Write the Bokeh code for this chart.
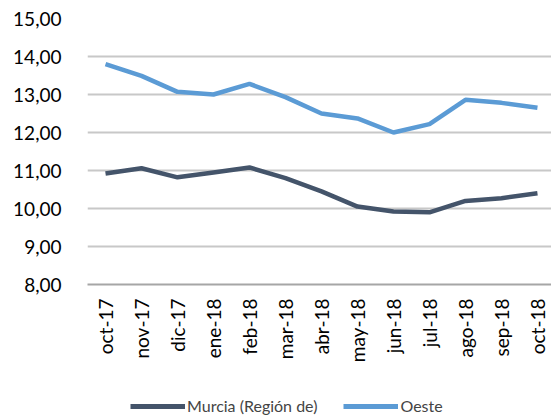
from bokeh.plotting import figure
from bokeh.layouts import column
from bokeh.models import Range1d, FixedTicker, Legend, LegendItem
from bokeh.embed import file_html
from bokeh.resources import INLINE
import math

months = ["oct-17", "nov-17", "dic-17", "ene-18", "feb-18", "mar-18", "abr-18",
          "may-18", "jun-18", "jul-18", "ago-18", "sep-18", "oct-18"]
murcia = [10.92, 11.06, 10.82, 10.95, 11.08, 10.80, 10.45, 10.05, 9.92, 9.90, 10.20, 10.27, 10.40]
oeste = [13.80, 13.49, 13.07, 13.00, 13.28, 12.93, 12.50, 12.37, 12.00, 12.22, 12.86, 12.78, 12.65]
y_ticks = [8, 9, 10, 11, 12, 13, 14, 15]
y_labels = ["8,00", "9,00", "10,00", "11,00", "12,00", "13,00", "14,00", "15,00"]
series_names = ["Murcia (Región de)", "Oeste"]
colors = ["#44546A", "#5B9BD5"]

FONT = "Lato"
xs = list(range(len(months)))

p = figure(width=551, height=392, output_backend="svg", toolbar_location=None,
           x_range=Range1d(-0.5, 12.39), y_range=Range1d(8, 15),
           min_border_left=87, min_border_right=0, min_border_top=18, min_border_bottom=108)
p.outline_line_color = None
p.background_fill_color = "white"
p.border_fill_color = "white"

p.line(xs, murcia, line_color=colors[0], line_width=4.5)
p.line(xs, oeste, line_color=colors[1], line_width=4.5)

# y axis
p.yaxis.ticker = FixedTicker(ticks=y_ticks)
p.yaxis.major_label_overrides = dict(zip(y_ticks, y_labels))
p.yaxis.axis_line_color = None
p.yaxis.major_tick_line_color = None
p.yaxis.minor_tick_line_color = None
p.yaxis.major_label_text_font = FONT
p.yaxis.major_label_text_font_size = "19px"
p.yaxis.major_label_text_color = "#000000"
p.yaxis.major_label_standoff = 20

# x axis
p.xaxis.ticker = FixedTicker(ticks=xs)
p.xaxis.major_label_overrides = dict(zip(xs, months))
p.xaxis.major_label_orientation = math.pi / 2
p.xaxis.axis_line_color = "#A6A6A6"
p.xaxis.axis_line_width = 2
p.xaxis.major_tick_line_color = None
p.xaxis.minor_tick_line_color = None
p.xaxis.major_label_text_font = FONT
p.xaxis.major_label_text_font_size = "19px"
p.xaxis.major_label_text_color = "#000000"
p.xaxis.major_label_standoff = 8

p.xgrid.grid_line_color = None
p.ygrid.ticker = FixedTicker(ticks=y_ticks[1:])
p.ygrid.grid_line_color = "#C8C8C8"
p.ygrid.grid_line_width = 2

# legend strip (separate small figure holding only the legend)
lg = figure(width=551, height=25, output_backend="svg", toolbar_location=None,
            x_range=Range1d(0, 1), y_range=Range1d(0, 1),
            x_axis_type=None, y_axis_type=None,
            min_border_left=0, min_border_right=0, min_border_top=0, min_border_bottom=0)
lg.outline_line_color = None
lg.xgrid.visible = False
lg.ygrid.visible = False
lg.background_fill_color = "white"
lg.border_fill_color = "white"
# legend proxies: single off-range points, so only the legend samples show
r1 = lg.line([-1], [-1], line_color=colors[0], line_width=5)
r2 = lg.line([-1], [-1], line_color=colors[1], line_width=5)

legend = Legend(items=[LegendItem(label=series_names[0], renderers=[r1]),
                       LegendItem(label=series_names[1], renderers=[r2])],
                orientation="horizontal", location=(43, 2),
                label_text_font=FONT, label_text_font_size="16px",
                glyph_width=55, glyph_height=10, label_standoff=2, spacing=26,
                padding=0, margin=0, border_line_color=None,
                background_fill_alpha=0)
lg.add_layout(legend)

layout = column(p, lg, spacing=0)
open("out.html", "w").write(file_html(layout, INLINE))
